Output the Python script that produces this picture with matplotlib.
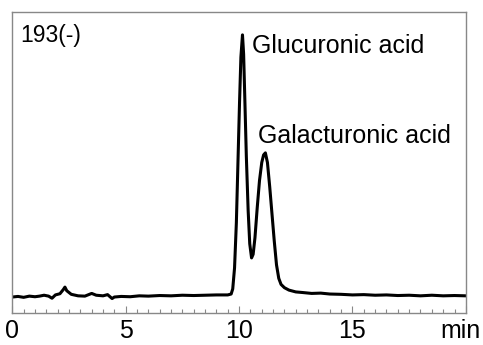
import matplotlib.pyplot as plt
import matplotlib.transforms as mtransforms
import numpy as np

plt.rcParams['font.family'] = ['Liberation Sans', 'DejaVu Sans']

# retention time (min) and detector signal
t = [0.0, 0.25, 0.5, 0.75, 1.0, 1.2, 1.4, 1.6, 1.75, 1.9, 2.1, 2.25, 2.32, 2.4,
     2.6, 2.9, 3.2, 3.5, 3.7, 4.0, 4.2, 4.4, 4.5, 4.8, 5.2, 5.6, 6.0, 6.5,
     7.0, 7.5, 8.0, 8.5, 9.0, 9.5, 9.65, 9.72, 9.8, 9.88, 9.95, 10.02,
     10.08, 10.15, 10.2, 10.25, 10.32, 10.4, 10.47, 10.55, 10.62, 10.7,
     10.8, 10.9, 11.0, 11.08, 11.16, 11.25, 11.35, 11.45, 11.55, 11.65,
     11.75, 11.85, 12.0, 12.2, 12.5, 12.8, 13.2, 13.6, 14.0, 14.5, 15.0,
     15.5, 16.0, 16.5, 17.0, 17.5, 18.0, 18.5, 19.0, 19.5, 20.0]
signal = [5.3, 5.5, 5.2, 5.6, 5.4, 5.6, 5.9, 5.6, 4.9, 6.0, 6.4, 7.8, 8.6, 7.4,
          6.2, 5.7, 5.6, 6.5, 5.9, 5.7, 6.1, 4.8, 5.3, 5.5, 5.4, 5.7, 5.6, 5.8,
          5.7, 5.9, 5.8, 5.9, 6.0, 6.0, 6.3, 8.0, 15.0, 30.0, 50.0, 70.0,
          85.0, 92.4, 86.0, 72.0, 52.0, 34.0, 23.0, 18.3, 19.5, 25.0,
          35.0, 44.0, 50.0, 52.5, 53.2, 50.0, 42.0, 33.0, 24.0, 16.0,
          11.5, 9.5, 8.4, 7.6, 7.0, 6.8, 6.5, 6.6, 6.3, 6.2, 6.0,
          6.1, 5.9, 6.0, 5.8, 5.9, 5.7, 5.9, 5.7, 5.8, 5.7]

xticks = [0, 5, 10, 15, 20]
xticklabels = ['0', '5', '10', '15', 'min']

fig = plt.figure(figsize=(4.83, 3.45), dpi=100)
ax = fig.add_axes([0.0255, 0.0928, 0.939, 0.8724])

ax.plot(t, signal, color='black', lw=2.2)

ax.set_xlim(0, 20)
ax.set_ylim(0, 100)
ax.set_xticks(xticks)
ax.set_xticklabels(xticklabels, fontsize=18)
ax.set_xticks(np.arange(0, 20.01, 0.5), minor=True)
ax.tick_params(axis='x', which='major', direction='in', length=5, width=0.8,
               color='#888888', pad=4)
ax.tick_params(axis='x', which='minor', direction='in', length=3, width=0.8,
               color='#888888')
ax.set_yticks([])
for s in ax.spines.values():
    s.set_color('#888888')
    s.set_linewidth(1.0)

# pull "min" left so it stays inside the figure
lab = ax.get_xticklabels()[-1]
lab.set_transform(lab.get_transform() +
                  mtransforms.ScaledTranslation(-5 / 100, 0, fig.dpi_scale_trans))

ax.text(0.37, 90, '193(-)', fontsize=16.5, va='baseline')
ax.text(10.55, 86.3, 'Glucuronic acid', fontsize=18, va='baseline')
ax.text(10.84, 56.4, 'Galacturonic acid', fontsize=18, va='baseline')

fig.savefig('out.png', dpi=100)
